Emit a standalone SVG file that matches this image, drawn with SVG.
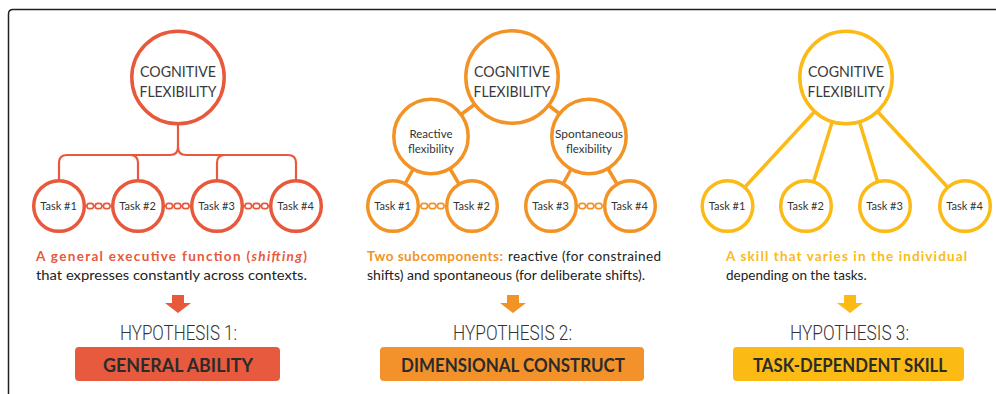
<svg xmlns="http://www.w3.org/2000/svg" xmlns:xlink="http://www.w3.org/1999/xlink" width="996" height="394" viewBox="0 0 996 394">
<style>
.frame{fill:none;stroke:#222;stroke-width:1.5}
.c1{fill:#fff;stroke:#E8593C;stroke-width:3.5}
.c2{fill:#fff;stroke:#F39325;stroke-width:3.5}
.c3{fill:#fff;stroke:#FBBA16;stroke-width:3.5}
.l1{fill:none;stroke:#E8593C;stroke-width:2.2}
.l2{fill:none;stroke:#F39325;stroke-width:3.5}
.l3{fill:none;stroke:#FBBA16;stroke-width:3.5}
.title{font-family:Lato,"Open Sans",sans-serif;font-size:15px;fill:#3a3a3a;text-anchor:middle}
.sub{font-family:Lato,"Open Sans",sans-serif;font-size:11.5px;fill:#333;text-anchor:middle}
.task{font-family:Lato,"Open Sans",sans-serif;font-size:11px;fill:#333;text-anchor:middle}
.desc{font-family:Lato,"Open Sans",sans-serif;font-size:13.5px;fill:#222}
.hl{font-weight:bold}
.hyp{font-family:Roboto,"DejaVu Sans",sans-serif;font-weight:300;font-size:21px;fill:#333;text-anchor:middle}
.boxt{font-family:Lato,"Open Sans",sans-serif;font-weight:bold;font-size:18px;fill:#2b2b2b;text-anchor:middle}
</style>
<defs>
<g id="chain" fill="#fff" stroke="currentColor" stroke-width="1.6">
<path d="M-14,0H14"/>
<rect x="-11.5" y="-2.6" width="6.5" height="5.2" rx="2.4"/>
<rect x="-3.25" y="-2.6" width="6.5" height="5.2" rx="2.4"/>
<rect x="5" y="-2.6" width="6.5" height="5.2" rx="2.4"/>
</g>
<path id="arrow" d="M-6,0H6V8H13L0,18L-13,8H-6Z"/>
</defs>

<path class="frame" d="M8.5,394V14Q8.5,9.5 13,9.5H996"/>

<g id="connectors">
<path class="l1" d="M178,124V147Q178,155 170,155H67Q59,155 59,163V181"/>
<path class="l1" d="M178,147Q178,155 186,155H288Q296,155 296,163V181"/>
<path class="l1" d="M130,155Q138,155 138,163V181"/>
<path class="l1" d="M225,155Q217,155 217,163V181"/>
<use href="#chain" x="98.5" y="206" color="#E8593C"/>
<use href="#chain" x="177.5" y="206" color="#E8593C"/>
<use href="#chain" x="256.5" y="206" color="#E8593C"/>
<path class="l2" d="M512,77L431,136.5M512,77L589,136.5M431,136.5L393,206M431,136.5L472,206M589,136.5L551,206M589,136.5L630,206"/>
<use href="#chain" x="432.5" y="206" color="#F39325"/>
<use href="#chain" x="590.5" y="206" color="#F39325"/>
<path class="l3" d="M846,77.5L727.5,206M846,77.5L806,206M846,77.5L885,206M846,77.5L965,206"/>
</g>

<g id="p1-root"><circle class="c1" cx="178" cy="77.5" r="46.2"/>
<text class="title" x="178" y="77" textLength="76" lengthAdjust="spacingAndGlyphs">COGNITIVE</text>
<text class="title" x="178" y="96.5" textLength="77" lengthAdjust="spacingAndGlyphs">FLEXIBILITY</text></g>
<g id="p1-task1"><circle class="c1" cx="59" cy="206" r="25.3"/><text class="task" x="58.5" y="210">Task #1</text></g>
<g id="p1-task2"><circle class="c1" cx="138" cy="206" r="25.3"/><text class="task" x="137.5" y="210">Task #2</text></g>
<g id="p1-task3"><circle class="c1" cx="217" cy="206" r="25.3"/><text class="task" x="216.5" y="210">Task #3</text></g>
<g id="p1-task4"><circle class="c1" cx="296" cy="206" r="25.3"/><text class="task" x="295.5" y="210">Task #4</text></g>

<g id="p1-desc">
<text class="desc hl" x="36" y="261" fill="#E8593C" style="fill:#E8593C" textLength="271" lengthAdjust="spacing">A general executive function (<tspan font-style="italic">shifting</tspan>)</text>
<text class="desc" x="36" y="280" textLength="271" lengthAdjust="spacingAndGlyphs">that expresses constantly across contexts.</text>
</g>
<g id="p1-hyp">
<use href="#arrow" x="178" y="295" fill="#E8593C"/>
<text class="hyp" x="178.5" y="340" textLength="117" lengthAdjust="spacingAndGlyphs">HYPOTHESIS 1:</text>
<rect x="75" y="347" width="205" height="34" rx="4" fill="#E85A3D"/>
<text class="boxt" x="178" y="372" textLength="150" lengthAdjust="spacingAndGlyphs">GENERAL ABILITY</text>
</g>

<g id="p2-root"><circle class="c2" cx="512" cy="77" r="46.2"/>
<text class="title" x="512" y="77" textLength="76" lengthAdjust="spacingAndGlyphs">COGNITIVE</text>
<text class="title" x="512" y="96.5" textLength="77" lengthAdjust="spacingAndGlyphs">FLEXIBILITY</text></g>
<g id="p2-reactive"><circle class="c2" cx="431" cy="136.5" r="37.2"/>
<text class="sub" x="431" y="138">Reactive</text><text class="sub" x="431" y="152.5">flexibility</text></g>
<g id="p2-spontaneous"><circle class="c2" cx="589" cy="136.5" r="37.2"/>
<text class="sub" x="589" y="138" textLength="68" lengthAdjust="spacingAndGlyphs">Spontaneous</text><text class="sub" x="589" y="152.5">flexibility</text></g>
<g id="p2-task1"><circle class="c2" cx="393" cy="206" r="25.3"/><text class="task" x="392.5" y="210">Task #1</text></g>
<g id="p2-task2"><circle class="c2" cx="472" cy="206" r="25.3"/><text class="task" x="471.5" y="210">Task #2</text></g>
<g id="p2-task3"><circle class="c2" cx="551" cy="206" r="25.3"/><text class="task" x="550.5" y="210">Task #3</text></g>
<g id="p2-task4"><circle class="c2" cx="630" cy="206" r="25.3"/><text class="task" x="629.5" y="210">Task #4</text></g>

<g id="p2-desc">
<text class="desc hl" x="367" y="261" style="fill:#F39325" textLength="136" lengthAdjust="spacing">Two subcomponents:</text>
<text class="desc" x="508" y="261" textLength="153" lengthAdjust="spacing">reactive (for constrained</text>
<text class="desc" x="367" y="280" textLength="278" lengthAdjust="spacingAndGlyphs">shifts) and spontaneous (for deliberate shifts).</text>
</g>
<g id="p2-hyp">
<use href="#arrow" x="513" y="295" fill="#F39325"/>
<text class="hyp" x="512.5" y="340" textLength="119" lengthAdjust="spacingAndGlyphs">HYPOTHESIS 2:</text>
<rect x="380" y="347" width="264" height="34" rx="4" fill="#F3922B"/>
<text class="boxt" x="513" y="372" textLength="224" lengthAdjust="spacingAndGlyphs">DIMENSIONAL CONSTRUCT</text>
</g>

<g id="p3-root"><circle class="c3" cx="846" cy="77.5" r="46.2"/>
<text class="title" x="846" y="77" textLength="76" lengthAdjust="spacingAndGlyphs">COGNITIVE</text>
<text class="title" x="846" y="96.5" textLength="77" lengthAdjust="spacingAndGlyphs">FLEXIBILITY</text></g>
<g id="p3-task1"><circle class="c3" cx="727.5" cy="206" r="25.3"/><text class="task" x="727" y="210">Task #1</text></g>
<g id="p3-task2"><circle class="c3" cx="806" cy="206" r="25.3"/><text class="task" x="805.5" y="210">Task #2</text></g>
<g id="p3-task3"><circle class="c3" cx="885" cy="206" r="25.3"/><text class="task" x="884.5" y="210">Task #3</text></g>
<g id="p3-task4"><circle class="c3" cx="965" cy="206" r="25.3"/><text class="task" x="964.5" y="210">Task #4</text></g>

<g id="p3-desc">
<text class="desc hl" x="726" y="261" style="fill:#FBBA16" textLength="241" lengthAdjust="spacing">A skill that varies in the individual</text>
<text class="desc" x="726" y="280">depending on the tasks.</text>
</g>
<g id="p3-hyp">
<use href="#arrow" x="850" y="295" fill="#FBBA16"/>
<text class="hyp" x="849.5" y="340" textLength="119" lengthAdjust="spacingAndGlyphs">HYPOTHESIS 3:</text>
<rect x="733" y="347" width="231" height="34" rx="4" fill="#FBBA14"/>
<text class="boxt" x="850" y="372" textLength="194" lengthAdjust="spacingAndGlyphs">TASK-DEPENDENT SKILL</text>
</g>
</svg>
